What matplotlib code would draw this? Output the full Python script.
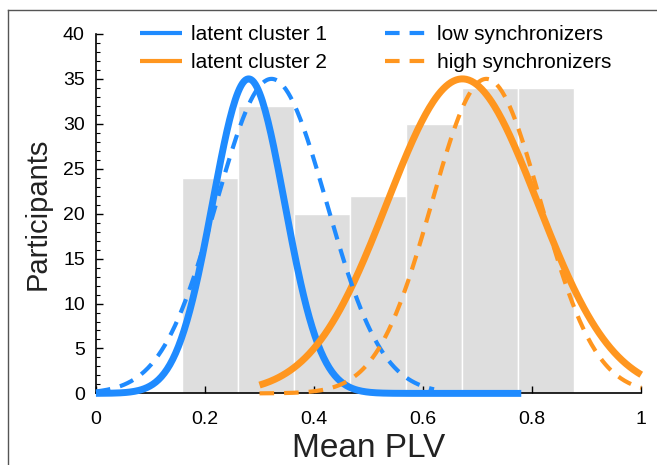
import matplotlib
matplotlib.use('Agg')
import matplotlib.pyplot as plt
import matplotlib.ticker as mtick
from matplotlib.lines import Line2D
import numpy as np

plt.rcParams['font.family'] = ['Liberation Sans', 'DejaVu Sans']

# histogram of mean PLV (bin edges and participant counts)
bin_edges = [0.158, 0.261, 0.364, 0.466, 0.569, 0.672, 0.774, 0.877]
counts = [24, 32, 20, 22, 30, 34, 34]

# fitted normal curves: label, mean, sd, peak height, x range
curve_labels = ['latent cluster 1', 'latent cluster 2',
                'low synchronizers', 'high synchronizers']
curve_means = [0.280, 0.672, 0.322, 0.716]
curve_sds = [0.066, 0.138, 0.101, 0.100]
curve_peaks = [35, 35, 35, 35]
curve_start = [0.0, 0.30, 0.0, 0.30]
curve_end = [0.78, 1.0, 0.62, 1.0]

xticks = [0, 0.2, 0.4, 0.6, 0.8, 1]
xticklabels = ['0', '0.2', '0.4', '0.6', '0.8', '1']
yticks = [0, 5, 10, 15, 20, 25, 30, 35, 40]

blue = '#1f8bff'
orange = '#ff961f'
colors = [blue, orange, blue, orange]
styles = ['solid', 'solid', 'dashed', 'dashed']

fig = plt.figure(figsize=(6.57, 4.65), dpi=100)
ax = fig.add_axes([0.146, 0.154, 0.83, 0.773])

# histogram bars
lefts = np.array(bin_edges[:-1])
widths = np.diff(bin_edges)
ax.bar(lefts, counts, widths, align='edge', color='#dedede',
       edgecolor='white', linewidth=1, zorder=1)

# curves
for i in range(len(curve_labels)):
    xs = np.linspace(curve_start[i], curve_end[i], 300)
    ys = curve_peaks[i] * np.exp(-(xs - curve_means[i]) ** 2 / (2 * curve_sds[i] ** 2))
    if styles[i] == 'solid':
        ax.plot(xs, ys, color=colors[i], lw=5, solid_capstyle='butt',
                label=curve_labels[i], zorder=3, clip_on=False)
    else:
        ax.plot(xs, ys, color=colors[i], lw=3, dashes=(3.5, 2.4),
                dash_capstyle='butt', label=curve_labels[i], zorder=3,
                clip_on=False)

ax.set_xlim(0, 1)
ax.set_ylim(0, 40)
ax.set_xticks(xticks)
ax.set_xticklabels(xticklabels)
ax.set_yticks(yticks)
ax.yaxis.set_minor_locator(mtick.MultipleLocator(1))
ax.tick_params(axis='both', which='major', direction='in', length=5,
               width=1, labelsize=14, colors='black')
ax.tick_params(axis='y', which='minor', direction='in', length=3, width=0.8)
ax.tick_params(axis='y', which='major', pad=8)
ax.tick_params(axis='x', which='major', pad=13)
for s in ['top', 'right']:
    ax.spines[s].set_visible(False)
for s in ['left', 'bottom']:
    ax.spines[s].set_linewidth(1.2)
    ax.spines[s].set_zorder(2)

ax.set_ylabel('Participants', fontsize=21, labelpad=8, color='#222222')
ax.set_xlabel('Mean PLV', fontsize=24, labelpad=3, color='#222222')

handles, labels = ax.get_legend_handles_labels()
leg = ax.legend(handles, labels, ncol=2, frameon=False, loc='upper left',
                bbox_to_anchor=(0.081, 1.025), fontsize=15,
                handlelength=2.0, columnspacing=2.8, handletextpad=0.45,
                labelspacing=0.45, borderaxespad=0, borderpad=0)
for ln in leg.get_lines():
    ln.set_linewidth(3)

# figure border (left and top)
fx = 8 / 657
fy = 1 - 10 / 465
fig.add_artist(Line2D([fx, fx], [0, fy], transform=fig.transFigure,
                      color='#555555', lw=1))
fig.add_artist(Line2D([fx, 1], [fy, fy], transform=fig.transFigure,
                      color='#555555', lw=1))

fig.savefig('out.png', dpi=100)
